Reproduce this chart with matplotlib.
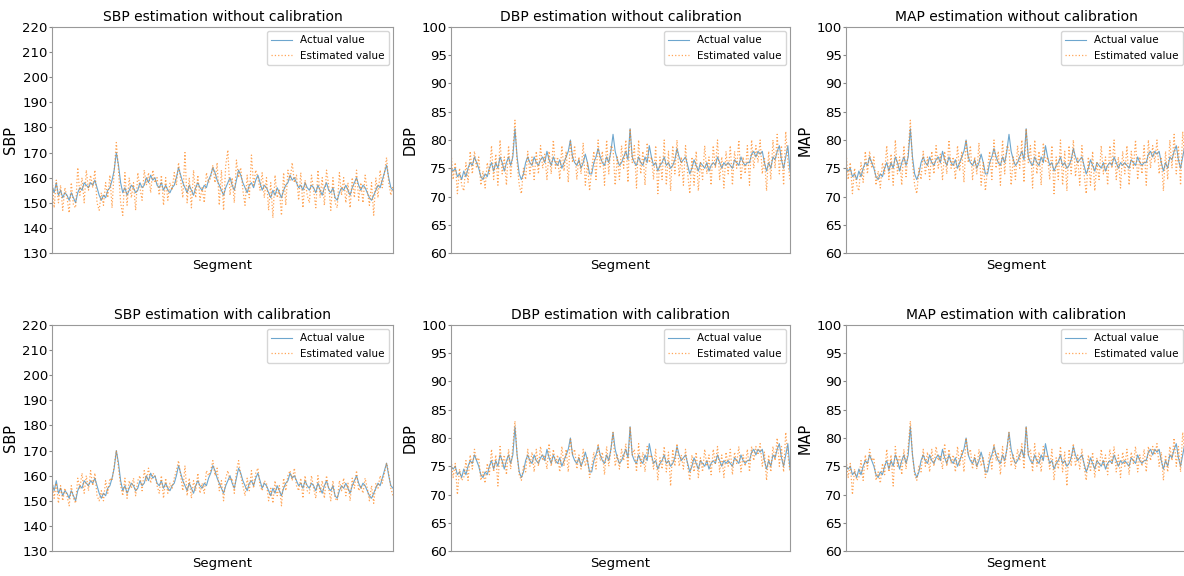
import numpy as np
import matplotlib
matplotlib.use("Agg")
import matplotlib.pyplot as plt

# ── data (160 segments) ───────────────────────────────────────────────────────
sbp_actual = [
    157, 154, 158, 153, 155, 152, 154, 153, 151, 154,
    152, 150, 154, 156, 155, 158, 157, 156, 158, 157,
    159, 156, 153, 151, 153, 152, 155, 156, 159, 163,
    170, 165, 158, 154, 156, 153, 155, 157, 156, 154,
    155, 158, 156, 157, 160, 158, 161, 159, 160, 157,
    156, 158, 155, 157, 155, 154, 156, 157, 160, 164,
    161, 158, 156, 154, 157, 155, 153, 156, 158, 156,
    155, 157, 156, 159, 161, 164, 162, 159, 157, 155,
    153, 156, 158, 160, 157, 155, 159, 163, 161, 158,
    156, 154, 157, 158, 156, 159, 161, 158, 155, 157,
    156, 154, 152, 155, 153, 156, 154, 152, 155, 157,
    158, 161, 159, 160, 158, 156, 157, 155, 158, 156,
    155, 157, 156, 154, 157, 155, 153, 156, 158, 155,
    154, 156, 152, 151, 154, 156, 155, 157, 155, 153,
    156, 158, 160, 157, 155, 157, 156, 154, 152, 151,
    153, 155, 157, 156, 159, 162, 165, 160, 156, 155,
]
sbp_est_nocal = [
    161, 148, 159, 150, 157, 147, 156, 152, 146, 158,
    149, 148, 164, 153, 160, 150, 163, 155, 161, 156,
    163, 150, 147, 154, 149, 158, 152, 161, 148, 163,
    174, 163, 150, 145, 162, 149, 160, 152, 158, 147,
    162, 156, 151, 163, 157, 162, 154, 163, 158, 160,
    153, 161, 149, 160, 151, 158, 155, 162, 157, 166,
    159, 152, 170, 150, 160, 148, 163, 152, 161, 151,
    156, 150, 162, 158, 160, 165, 158, 166, 149, 163,
    147, 165, 171, 153, 160, 150, 167, 160, 164, 155,
    149, 161, 152, 169, 157, 163, 160, 155, 162, 152,
    160, 147, 158, 144, 161, 152, 155, 145, 162, 149,
    163, 159, 166, 158, 161, 151, 162, 148, 159, 153,
    150, 161, 155, 148, 163, 152, 160, 149, 163, 157,
    147, 160, 150, 148, 162, 153, 160, 150, 158, 148,
    160, 152, 163, 151, 158, 150, 161, 155, 149, 158,
    145, 160, 152, 163, 156, 162, 168, 158, 153, 157,
]
sbp_est_cal = [
    159, 151, 157, 149, 156, 150, 155, 152, 148, 156,
    151, 149, 159, 155, 161, 153, 160, 154, 162, 156,
    161, 152, 150, 154, 150, 158, 153, 159, 158, 164,
    170, 163, 156, 152, 159, 151, 158, 155, 159, 152,
    158, 160, 154, 162, 158, 163, 157, 161, 160, 156,
    153, 160, 151, 159, 153, 157, 155, 159, 162, 166,
    160, 154, 164, 152, 159, 151, 158, 154, 161, 153,
    157, 153, 162, 160, 162, 166, 160, 163, 154, 158,
    150, 159, 162, 158, 159, 153, 162, 166, 160, 156,
    152, 159, 154, 162, 155, 161, 163, 156, 154, 158,
    157, 150, 155, 149, 158, 152, 156, 148, 159, 154,
    160, 162, 158, 163, 156, 154, 159, 151, 160, 154,
    153, 160, 155, 151, 160, 153, 158, 151, 160, 155,
    150, 158, 151, 150, 158, 154, 159, 152, 157, 150,
    159, 155, 162, 154, 156, 153, 159, 155, 150, 156,
    149, 157, 155, 160, 157, 161, 165, 161, 155, 152,
]
dbp_actual = [
    75, 74.5, 75, 73.5, 74, 73, 74.5, 73.5, 75, 76,
    75.5, 77, 76, 75, 73.5, 73, 74, 73.5, 75, 76,
    74.5, 76, 75, 77, 76, 74.5, 76, 77, 75.5, 77,
    82, 77, 74, 73, 74, 76, 77, 76, 75.5, 77,
    76, 75.5, 76.5, 77, 76, 78, 76.5, 75.5, 77, 76,
    75.5, 76.5, 75, 76, 77, 78, 80, 77, 76, 75.5,
    76.5, 75, 76, 77.5, 76, 74, 74, 76, 77, 78.5,
    77, 76, 75.5, 77, 76, 78, 81, 78, 76.5, 75.5,
    76, 77, 78, 76.5, 82, 77, 76, 75.5, 77, 76,
    75.5, 77, 76, 79, 77, 75.5, 76, 74.5, 75.5, 76,
    77, 75.5, 76, 75, 75.5, 76.5, 78.5, 77, 76, 76.5,
    77, 75.5, 74, 75, 76.5, 75.5, 74.5, 76, 75.5, 75,
    76, 74.5, 75.5, 76, 75.5, 77, 76, 75, 76, 75.5,
    76, 75.5, 75, 76.5, 76, 75.5, 77, 76, 75.5, 76,
    76, 77.5, 78, 77, 78, 77.5, 78, 76, 74.5, 76,
    75, 77, 76.5, 78, 79, 76.5, 75, 77, 79, 74.5,
]
dbp_est_nocal = [
    78, 73, 76, 70.5, 75, 72, 71, 76, 72.5, 78,
    74, 78, 75, 77, 72, 74.5, 71.5, 76, 74, 79,
    73, 77.5, 72, 80, 74, 77, 72, 79, 73.5, 78,
    83.5, 76, 72, 70.5, 75, 73, 78, 74, 77, 73,
    78, 74, 79, 75, 77.5, 73, 78, 74, 80, 75,
    77, 73, 79, 74.5, 78, 72.5, 80, 76, 79, 73,
    77, 74, 79.5, 72, 76, 71, 75, 78, 73, 80,
    75, 78, 72, 80, 74, 79, 78.5, 72, 77, 73,
    79, 75, 80, 72.5, 82, 76, 79, 71.5, 80, 74,
    78, 72, 79.5, 76, 77, 73, 79, 70.5, 77, 73,
    80, 72, 78, 71, 79, 74, 80, 73.5, 77, 72,
    79, 74, 70.5, 77, 72, 78, 71, 76, 73, 79,
    74, 77, 72, 79, 75, 80, 73, 77, 71.5, 78,
    74, 79, 72, 78, 75, 80, 73, 77, 74, 79,
    72, 80, 75, 79, 76, 80, 74, 77, 71, 78,
    73, 80, 75, 81, 74, 79, 72, 81.5, 76, 73,
]
dbp_est_cal = [
    76.5, 73, 75.5, 70, 74.5, 72.5, 73, 76, 72.5, 77,
    74.5, 78, 76, 76.5, 72.5, 74, 72, 75.5, 73.5, 78,
    74, 77, 71.5, 78.5, 75, 77, 73.5, 78, 74.5, 78.5,
    83, 77, 73.5, 72.5, 75, 74, 78, 75, 77.5, 74,
    78, 75, 78.5, 76, 77, 74.5, 79, 75, 78, 75.5,
    77, 74, 78.5, 75, 78, 74, 80, 77, 78, 74.5,
    77, 74.5, 78, 75, 76.5, 73, 75, 77.5, 74.5, 79,
    76, 77.5, 73.5, 78.5, 75, 78, 81, 75, 77, 74.5,
    78, 76, 79, 74.5, 82, 77, 78, 74, 79, 75,
    77.5, 74, 78.5, 76.5, 77, 74.5, 78, 72.5, 76.5, 74.5,
    78.5, 74, 77.5, 71.5, 78, 75, 79, 75, 77, 74.5,
    78, 75, 72.5, 77, 74, 77.5, 73, 76.5, 74, 78,
    75, 77, 73.5, 78, 75.5, 78.5, 74, 77, 73, 77.5,
    75, 78, 73.5, 77.5, 75.5, 78.5, 74, 77, 75, 78,
    74, 78.5, 76, 78.5, 77, 79, 75, 77.5, 72.5, 77,
    74, 78.5, 76, 80, 75, 78.5, 74, 81, 77, 74,
]
# MAP panels show the same curves as the DBP panels in the reference
map_actual = dbp_actual
map_est_nocal = dbp_est_nocal
map_est_cal = dbp_est_cal

SBP_TICKS = np.arange(130, 221, 10)
DBP_TICKS = np.arange(60, 101, 5)

panels = [
    # (row, col, label, actual, estimated, ticks, title)
    (0, 0, "SBP", sbp_actual, sbp_est_nocal, SBP_TICKS, "SBP estimation without calibration"),
    (0, 1, "DBP", dbp_actual, dbp_est_nocal, DBP_TICKS, "DBP estimation without calibration"),
    (0, 2, "MAP", map_actual, map_est_nocal, DBP_TICKS, "MAP estimation without calibration"),
    (1, 0, "SBP", sbp_actual, sbp_est_cal, SBP_TICKS, "SBP estimation with calibration"),
    (1, 1, "DBP", dbp_actual, dbp_est_cal, DBP_TICKS, "DBP estimation with calibration"),
    (1, 2, "MAP", map_actual, map_est_cal, DBP_TICKS, "MAP estimation with calibration"),
]

W, H = 1184, 576
fig = plt.figure(figsize=(W / 100, H / 100), dpi=100)

col_x = [52, 451, 846]
col_w = [341, 339, 341]
row_top = [27, 325]
ax_h = 226

for row, col, lab, act, est, ticks, title in panels:
    x0 = col_x[col] / W
    y0 = 1 - (row_top[row] + ax_h) / H
    ax = fig.add_axes([x0, y0, col_w[col] / W, ax_h / H])
    seg = np.arange(len(act))
    ax.plot(seg, act, color="#1f77b4", lw=0.8, alpha=0.65, label="Actual value")
    ax.plot(seg, est, color="#ff7f0e", lw=0.9, ls=":", alpha=0.7, label="Estimated value")
    ax.set_xlim(0, len(act) - 1)
    ax.set_ylim(ticks[0], ticks[-1])
    ax.set_yticks(ticks)
    ax.set_xticks([])
    ax.tick_params(axis="y", labelsize=9.5, length=2, color="#888888", pad=1)
    for s in ax.spines.values():
        s.set_color("#999999")
    ax.set_title(title, fontsize=10, pad=4)
    ax.set_xlabel("Segment", fontsize=9.5, labelpad=4)
    ax.set_ylabel(lab, fontsize=10.5, labelpad=3)
    ax.legend(loc="upper right", fontsize=7.5, handlelength=2.0, borderaxespad=0.4)

fig.savefig("out.png", dpi=100)
